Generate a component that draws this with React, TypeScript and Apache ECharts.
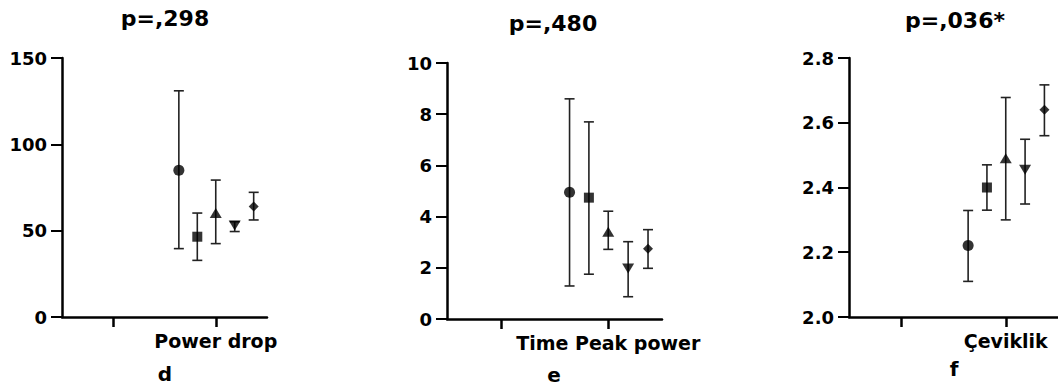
import React, { useEffect, useRef } from "react";
import * as echarts from "echarts";

// ---- data ----
const catsD = ["", "Power drop"];
const meansD = [85, 46.5, 60.2, 53, 64];
const lowsD = [39.6, 32.8, 42.5, 49.5, 56.2];
const highsD = [131, 60.2, 79.3, 55.2, 72.2];

const catsE = ["", "Time Peak power"];
const meansE = [4.95, 4.74, 3.41, 1.97, 2.74];
const lowsE = [1.29, 1.75, 2.72, 0.87, 1.98];
const highsE = [8.6, 7.7, 4.21, 3.02, 3.49];

const catsF = ["", "Çeviklik"];
const meansF = [2.221, 2.4, 2.49, 2.455, 2.64];
const lowsF = [2.11, 2.33, 2.3, 2.349, 2.56];
const highsF = [2.329, 2.47, 2.678, 2.549, 2.717];

const titles = ["p=,298", "p=,480", "p=,036*"];
const letters = ["d", "e", "f"];
const yMins = [0, 0, 2.0];
const yMaxs = [150, 10, 2.8];
const yIntervals = [50, 2, 0.2];

const FONT = "'DejaVu Sans', sans-serif";

const panels = [
  { cats: catsD, means: meansD, lows: lowsD, highs: highsD },
  { cats: catsE, means: meansE, lows: lowsE, highs: highsE },
  { cats: catsF, means: meansF, lows: lowsF, highs: highsF },
];

// layout
const grids = [
  { left: 62, top: 58, width: 205, height: 259 },
  { left: 447, top: 63, width: 215, height: 256 },
  { left: 849, top: 58, width: 215, height: 259 },
];
const titlePos = [
  [165, 18],
  [553, 23],
  [955, 20],
];
const letterPos = [
  [165, 374],
  [554, 375],
  [954, 369],
];
const markerOffsets = [-0.72, -0.36, 0, 0.37, 0.74];
const markers = [
  { symbol: "circle", size: [11, 11], rotate: 0 },
  { symbol: "rect", size: [10, 10], rotate: 0 },
  { symbol: "triangle", size: [12, 10], rotate: 0 },
  { symbol: "triangle", size: [12, 10], rotate: 180 },
  { symbol: "diamond", size: [10, 10], rotate: 0 },
];

export default function App() {
  const ref = useRef<HTMLDivElement>(null);

  useEffect(() => {
    if (!ref.current) return;
    const chart = echarts.init(ref.current, undefined, { renderer: "svg" });

    const xAxis: any[] = [];
    const yAxis: any[] = [];
    const series: any[] = [];
    const graphic: any[] = [];

    panels.forEach((p, i) => {
      xAxis.push({
        type: "category",
        gridIndex: i,
        data: p.cats,
        boundaryGap: true,
        axisLine: { show: true, lineStyle: { color: "#000", width: 2.5 } },
        axisTick: { show: true, alignWithLabel: true, length: 10, lineStyle: { color: "#000", width: 2.5 } },
        axisLabel: {
          show: true,
          interval: 0,
          margin: 14,
          color: "#000",
          fontFamily: FONT,
          fontWeight: "bold",
          fontSize: 19,
        },
        splitLine: { show: false },
      });
      xAxis.push({
        type: "value",
        gridIndex: i,
        min: 0,
        max: 4,
        show: false,
      });
      yAxis.push({
        type: "value",
        gridIndex: i,
        min: yMins[i],
        max: yMaxs[i],
        interval: yIntervals[i],
        axisLine: { show: true, onZero: false, lineStyle: { color: "#000", width: 2.5 } },
        axisTick: { show: true, length: 11, lineStyle: { color: "#000", width: 2 } },
        axisLabel: {
          margin: 15,
          color: "#000",
          fontFamily: FONT,
          fontWeight: "bold",
          fontSize: 18,
          formatter: (v: number) => (i === 2 ? v.toFixed(1) : String(v)),
        },
        splitLine: { show: false },
      });

      const catIndex = 1;
      const center = catIndex * 2 + 1; // value-axis position of category center
      const xs = p.means.map((_, k) => center + markerOffsets[k]);

      series.push({
        type: "custom",
        xAxisIndex: i * 2 + 1,
        yAxisIndex: i,
        data: xs.map((x, k) => [x, p.lows[k], p.highs[k]]),
        encode: { x: 0, y: [1, 2] },
        renderItem: (params: any, api: any) => {
          const x = api.value(0);
          const top = api.coord([x, api.value(2)]);
          const bot = api.coord([x, api.value(1)]);
          const style = { stroke: "#222", lineWidth: 1.6 };
          return {
            type: "group",
            children: [
              { type: "line", shape: { x1: top[0], y1: top[1], x2: bot[0], y2: bot[1] }, style },
              { type: "line", shape: { x1: top[0] - 5, y1: top[1], x2: top[0] + 5, y2: top[1] }, style },
              { type: "line", shape: { x1: bot[0] - 5, y1: bot[1], x2: bot[0] + 5, y2: bot[1] }, style },
            ],
          };
        },
        z: 2,
      });

      series.push({
        type: "scatter",
        xAxisIndex: i * 2 + 1,
        yAxisIndex: i,
        data: xs.map((x, k) => ({
          value: [x, p.means[k]],
          symbol: markers[k].symbol,
          symbolSize: markers[k].size,
          symbolRotate: markers[k].rotate,
        })),
        itemStyle: { color: "#000" },
        z: 3,
      });

      graphic.push({
        type: "text",
        x: titlePos[i][0],
        y: titlePos[i][1],
        style: {
          text: titles[i],
          fill: "#000",
          font: `bold 22px ${FONT}`,
          textAlign: "center",
          textVerticalAlign: "middle",
        },
      });
      graphic.push({
        type: "text",
        x: letterPos[i][0],
        y: letterPos[i][1],
        style: {
          text: letters[i],
          fill: "#000",
          font: `bold 20px ${FONT}`,
          textAlign: "center",
          textVerticalAlign: "middle",
        },
      });
    });

    chart.setOption({
      animation: false,
      backgroundColor: "#fff",
      grid: grids.map((g) => ({ ...g, containLabel: false })),
      xAxis,
      yAxis,
      series,
      graphic,
    });

    return () => chart.dispose();
  }, []);

  return (
    <div
      ref={ref}
      style={{ position: "fixed", left: 0, top: 0, width: 1058, height: 389 }}
    />
  );
}
